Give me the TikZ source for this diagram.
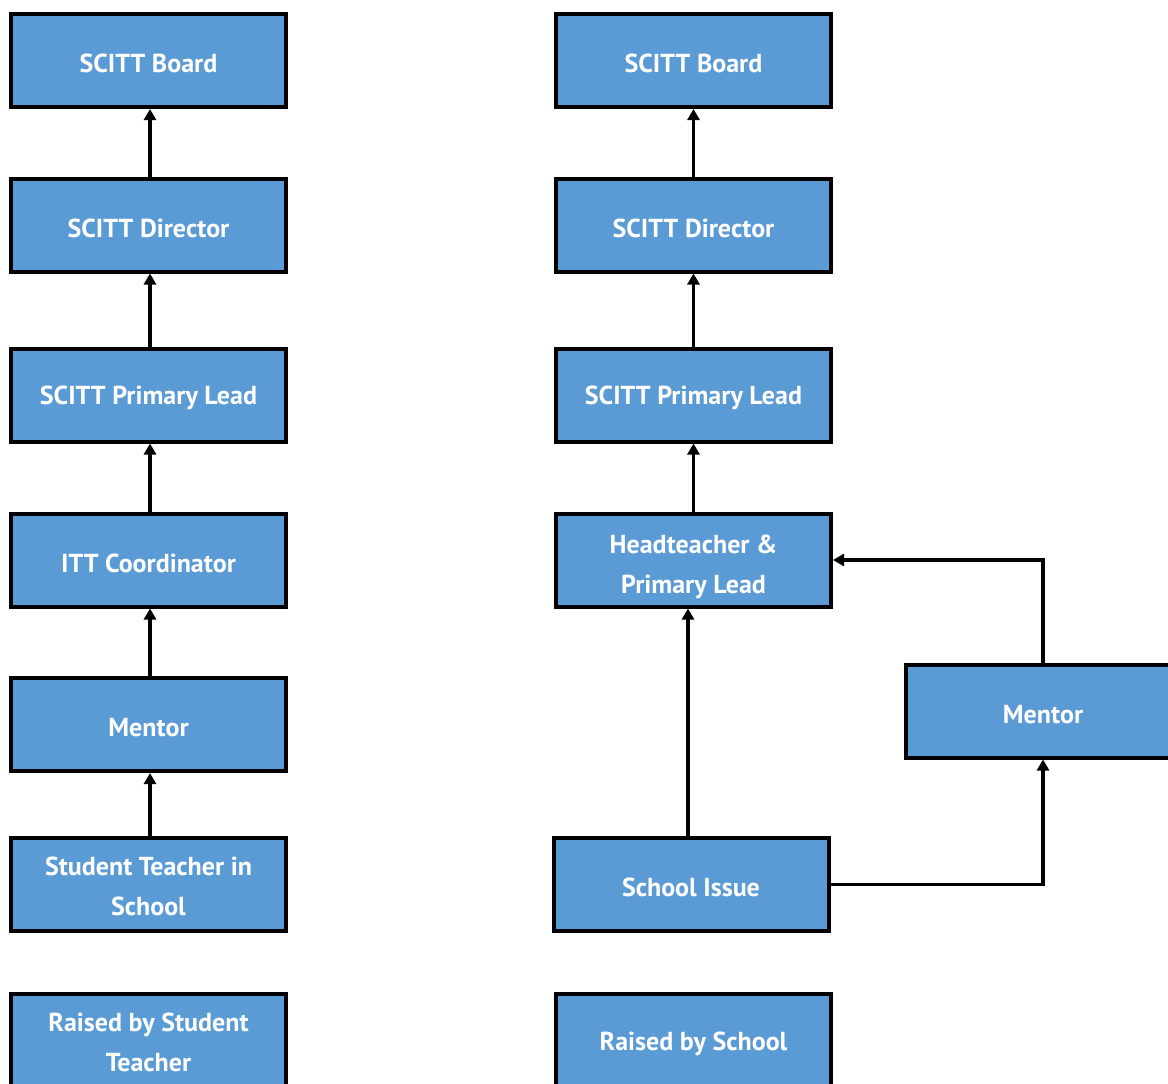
\documentclass[tikz,border=0pt]{standalone}
\usepackage{fontspec}
\setmainfont{PT Sans}
\usetikzlibrary{arrows.meta}
\definecolor{boxblue}{HTML}{5B9BD5}
\newcommand{\mytwolines}[3]{\raisebox{-#1}[\height][\depth]{\begin{tabular}{@{}c@{}}#2\\#3\end{tabular}}}
\tikzset{
  box/.style={draw=black, line width=4pt, fill=boxblue, minimum width=275pt, minimum height=93pt,
    text=white, font=\bfseries\fontsize{26}{40}\selectfont, align=center, inner sep=0pt,
    execute at begin node={\rule{0pt}{25pt}}},
  boxtwo/.style={draw=black, line width=4pt, fill=boxblue, minimum width=275pt, minimum height=93pt,
    text=white, font=\bfseries\fontsize{26}{40}\selectfont, inner sep=0pt},
  arr/.style={line width=3.5pt, -{Triangle[width=12pt,length=11pt]}}
}
\begin{document}
\begin{tikzpicture}[x=1pt,y=-1pt]
\useasboundingbox (0,0) rectangle (1168,1084);
\clip (0,0) rectangle (1168,1084);
\fill[white] (0,0) rectangle (1168,1084);
% left column
\node[box] (lboard) at (148.5,60.5) {SCITT Board};
\node[box] (ldir) at (148.5,225) {SCITT Director};
\node[box] (llead) at (148.5,395) {SCITT Primary Lead};
\node[box] (litt) at (148.5,560) {ITT Coordinator};
\node[box] (lmentor) at (148.5,724.5) {Mentor};
\node[boxtwo] (lstudent) at (148.5,884.5) {\mytwolines{3pt}{Student Teacher in}{School}};
\node[boxtwo] (lraised) at (148.5,1040) {\mytwolines{3pt}{Raised by Student}{Teacher}};
% right column
\node[box] (rboard) at (693.5,60.5) {SCITT Board};
\node[box] (rdir) at (693.5,225) {SCITT Director};
\node[box] (rlead) at (693.5,395) {SCITT Primary Lead};
\node[boxtwo] (rhead) at (693.5,560) {\mytwolines{5pt}{Headteacher \&}{Primary Lead}};
\node[box] (rmentor) at (1043,711) {Mentor};
\node[box] (rschool) at (691,884.5) {School Issue};
\node[box] (rraised) at (693.5,1040.5) {Raised by School};
% left arrows
\draw[arr] ([xshift=1.5pt]lstudent.north) -- ([xshift=1.5pt]lmentor.south);
\draw[arr] ([xshift=1.5pt]lmentor.north) -- ([xshift=1.5pt]litt.south);
\draw[arr] ([xshift=1.5pt]litt.north) -- ([xshift=1.5pt]llead.south);
\draw[arr] ([xshift=1.5pt]llead.north) -- ([xshift=1.5pt]ldir.south);
\draw[arr] ([xshift=1.5pt]ldir.north) -- ([xshift=1.5pt]lboard.south);
% right arrows
\draw[arr] ([xshift=-3pt]rschool.north) -- ([xshift=-3pt]rschool.north |- rhead.south);
\draw[arr] (rschool.east) -| (rmentor.south);
\draw[arr] (rmentor.north) |- (rhead.east);
\draw[arr] (rhead.north) -- (rlead.south);
\draw[arr] (rlead.north) -- (rdir.south);
\draw[arr] (rdir.north) -- (rboard.south);
\end{tikzpicture}
\end{document}
